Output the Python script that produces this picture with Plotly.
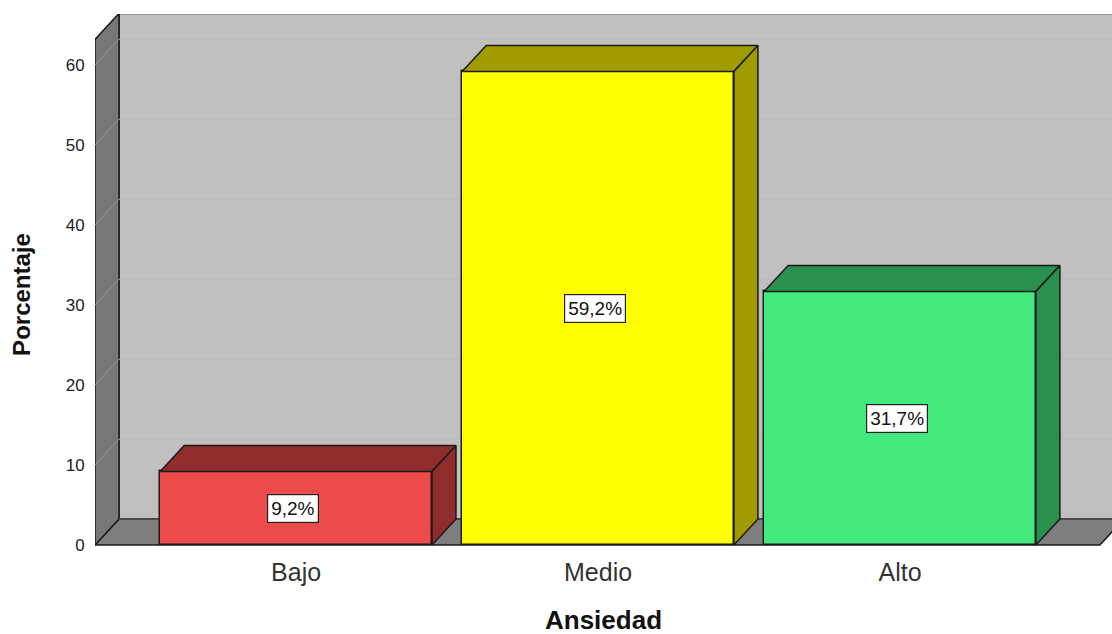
import plotly.graph_objects as go

categories = ["Bajo", "Medio", "Alto"]
percentages = [9.2, 59.2, 31.7]
value_labels = ["9,2%", "59,2%", "31,7%"]
front_colors = ["#ed4b4b", "#ffff00", "#42e97c"]
side_colors = ["#912c2c", "#a09c00", "#2a9050"]
y_ticks = [0, 10, 20, 30, 40, 50, 60]

# geometry (data units)
BAR_W = 0.9
DX = 24 / 302.0      # depth offset in x units
DY = 26 / 8.0        # depth offset in y units
X_MIN, X_MAX = -0.666, 2.702
Y_MIN, Y_MAX = -0.5, 66.375
WALL_TOP = 63.2
FLOOR_RIGHT = 2.662
FONT = "Liberation Sans, Arial, sans-serif"

fig = go.Figure()
shapes = []

def poly(pts, fill, line_color="#1a1a1a", width=1.5, layer="below"):
    path = "M " + " L ".join(f"{x},{y}" for x, y in pts) + " Z"
    return dict(type="path", path=path, xref="x", yref="y", fillcolor=fill,
                line=dict(color=line_color, width=width), layer=layer)

def seg(x0, y0, x1, y1, color, width=1):
    return dict(type="line", x0=x0, y0=y0, x1=x1, y1=y1, xref="x", yref="y",
                line=dict(color=color, width=width), layer="below")

xb = X_MIN + DX
# back wall
shapes.append(poly([(xb, DY), (X_MAX + 0.2, DY), (X_MAX + 0.2, WALL_TOP + DY), (xb, WALL_TOP + DY)],
                   "#c0c0c0", "#1a1a1a", 1.5))
# floor
shapes.append(poly([(X_MIN, 0), (FLOOR_RIGHT, 0), (FLOOR_RIGHT + DX, DY), (xb, DY)],
                   "#7e7e7e", "#1a1a1a", 1.5))
# left wall
shapes.append(poly([(X_MIN, 0), (X_MIN, WALL_TOP), (xb, WALL_TOP + DY), (xb, DY)],
                   "#777777", "#1a1a1a", 1.5))
# gridlines
for v in y_ticks[1:]:
    shapes.append(seg(xb, v + DY, X_MAX + 0.2, v + DY, "#b6b6b6", 1.2))
    shapes.append(seg(X_MIN, v, xb, v + DY, "#9a9a9a", 1))
# floor/back wall junction
shapes.append(seg(xb, DY, X_MAX + 0.2, DY, "#6a6a6a", 1))

xs = list(range(len(categories)))

# front faces
fig.add_trace(go.Bar(
    x=xs, y=percentages, width=BAR_W,
    marker=dict(color=front_colors, line=dict(color="#1a1a1a", width=1.5)),
    hoverinfo="skip", showlegend=False,
))

# top and side faces
for i, v in enumerate(percentages):
    l, r = i - BAR_W / 2, i + BAR_W / 2
    top = [(l, v), (r, v), (r + DX, v + DY), (l + DX, v + DY), (l, v)]
    side = [(r, 0), (r, v), (r + DX, v + DY), (r + DX, DY), (r, 0)]
    for pts in (top, side):
        fig.add_trace(go.Scatter(
            x=[p[0] for p in pts], y=[p[1] for p in pts], mode="lines",
            fill="toself", fillcolor=side_colors[i],
            line=dict(color="#1a1a1a", width=1.5),
            hoverinfo="skip", showlegend=False,
        ))

annotations = []
for i, v in enumerate(percentages):
    annotations.append(dict(
        x=i - 0.01, y=v / 2, xref="x", yref="y", text=value_labels[i], showarrow=False,
        font=dict(family=FONT, size=19, color="#111"),
        bgcolor="white", bordercolor="#222", borderwidth=1.2, borderpad=3,
    ))
# y-axis title
annotations.append(dict(
    x=0, y=0.475, xref="paper", yref="paper", xshift=-73, xanchor="center", yanchor="middle",
    textangle=-90, text="<b>Porcentaje</b>", showarrow=False,
    font=dict(family=FONT, size=24, color="#111"),
))
# x-axis title
annotations.append(dict(
    x=0.5, y=0, xref="paper", yref="paper", yshift=-71, xanchor="center", yanchor="middle",
    text="<b>Ansiedad</b>", showarrow=False,
    font=dict(family=FONT, size=26, color="#111"),
))

fig.update_layout(
    width=1112, height=634,
    margin=dict(l=95, r=0, t=14, b=85),
    paper_bgcolor="white", plot_bgcolor="white",
    shapes=shapes, annotations=annotations,
    font=dict(family=FONT),
    xaxis=dict(
        range=[X_MIN, X_MAX], tickvals=xs, ticktext=categories,
        showgrid=False, zeroline=False, showline=False,
        ticks="outside", ticklen=1, tickcolor="rgba(0,0,0,0)",
        tickfont=dict(size=25, color="#333"),
        automargin=False, fixedrange=True,
    ),
    yaxis=dict(
        range=[Y_MIN, Y_MAX], tickvals=y_ticks, ticktext=[str(t) for t in y_ticks],
        showgrid=False, zeroline=False, showline=False,
        ticks="outside", ticklen=6, tickcolor="rgba(0,0,0,0)",
        tickfont=dict(size=17, color="#222"),
        automargin=False, fixedrange=True,
    ),
    bargap=0,
)

fig.write_html("out.html", config={"displayModeBar": False})
